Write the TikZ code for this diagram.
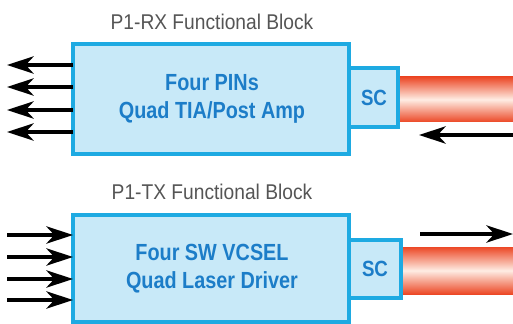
\documentclass[tikz,border=0pt]{standalone}
\usepackage{fontspec}
\setmainfont{Liberation Sans}
\newfontfamily\condbold[FakeStretch=0.85]{Liberation Sans Bold}
\newfontfamily\condreg[FakeStretch=0.90]{Liberation Sans}
\usetikzlibrary{arrows.meta}
\definecolor{boxfill}{HTML}{C8E9F8}
\definecolor{boxline}{HTML}{1EAAE2}
\definecolor{txtblue}{HTML}{1C7DC8}
\definecolor{cabred}{HTML}{EC4826}
\definecolor{cabmid}{HTML}{FEEDE4}
\definecolor{titlegrey}{HTML}{555555}
\tikzset{
  blockbox/.style={draw=boxline, fill=boxfill, line width=2.4pt},
  blocktext/.style={text=txtblue, font=\condbold\fontsize{17.5}{21}\selectfont, align=center},
  sctext/.style={text=txtblue, font=\condbold\fontsize{16.5}{18}\selectfont},
  titletext/.style={text=titlegrey, font=\condreg\fontsize{16}{18}\selectfont},
  sig/.style={line width=2.6pt, -{Stealth[length=20pt,width=13pt,inset=6pt]}},
}
\begin{document}
\begin{tikzpicture}[x=0.75pt,y=-0.75pt]
\useasboundingbox (0,0) rectangle (513,324);
% ---------- RX ----------
\node[titletext] (rxt) at (212,22) {P1-RX Functional Block};
\shade[top color=cabred, bottom color=cabred, middle color=cabmid] (398,77) rectangle (513,122);
\draw[blockbox] (73,44) rectangle (349,154);
\draw[blockbox] (349,68) rectangle (398,127);
\node[blocktext] (rxlabel) at (212,99) {Four PINs\\Quad TIA/Post Amp};
\node[sctext] (rxsc) at (374,98) {SC};
\foreach \yy [count=\i] in {65,87,110,132}{
  \coordinate (rxa\i) at (73,\yy);
  \coordinate (rxb\i) at (7,\yy);
  \draw[sig] (rxa\i) -- (rxb\i);
}
\coordinate (rxin1) at (513,135);
\coordinate (rxin2) at (419,135);
\draw[sig] (rxin1) -- (rxin2);
% ---------- TX ----------
\node[titletext] (txt) at (212,192) {P1-TX Functional Block};
\shade[top color=cabred, bottom color=cabred, middle color=cabmid] (401,247) rectangle (513,294);
\draw[blockbox] (73,215) rectangle (349,322);
\draw[blockbox] (349,240) rectangle (401,298);
\node[blocktext] (txlabel) at (212,269) {Four SW VCSEL\\Quad Laser Driver};
\node[sctext] (txsc) at (375,269) {SC};
\foreach \yy [count=\i] in {235,257,279,300}{
  \coordinate (txa\i) at (7,\yy);
  \coordinate (txb\i) at (73,\yy);
  \draw[sig] (txa\i) -- (txb\i);
}
\coordinate (txo1) at (420,234);
\coordinate (txo2) at (513,234);
\draw[sig] (txo1) -- (txo2);
\end{tikzpicture}
\end{document}
